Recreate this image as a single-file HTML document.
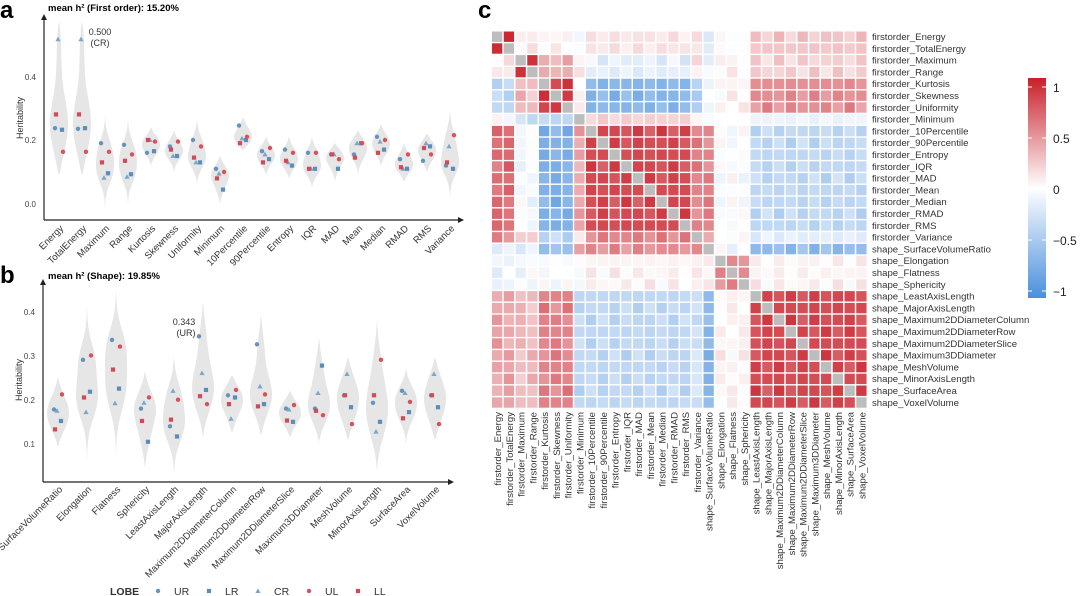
<!DOCTYPE html>
<html><head><meta charset="utf-8"><style>
body{margin:0;background:#fff;width:1080px;height:596px;overflow:hidden}
svg{display:block;font-family:"Liberation Sans",sans-serif}
</style></head><body>
<svg id="s" width="1080" height="596" xmlns="http://www.w3.org/2000/svg">
<defs><linearGradient id="cb" x1="0" y1="0" x2="0" y2="1">
<stop offset="0" stop-color="#c8202a"/><stop offset="0.5" stop-color="#ffffff"/><stop offset="1" stop-color="#4a8fdc"/></linearGradient></defs>
<text x="0" y="18" font-size="24" font-weight="bold">a</text>
<text x="0" y="283" font-size="24" font-weight="bold">b</text>
<text x="478" y="18" font-size="24" font-weight="bold">c</text>
<text x="48" y="11" font-size="9.5" font-weight="bold">mean h² (First order): 15.20%</text>
<text x="48" y="279" font-size="9.5" font-weight="bold">mean h² (Shape): 19.85%</text>
<g id="g"></g>
</svg>
<script>
var S=document.getElementById('g'),h='';
function t(x,y,s,o){h+='<text x="'+x+'" y="'+y+'" '+(o||'')+'>'+s+'</text>';}
function axes(x0,y0,x1,yt){h+='<path d="M'+x0+' '+y0+'V'+(yt+4)+'M'+x0+' '+y0+'H'+(x1-4)+'" stroke="#222" stroke-width="1.2" fill="none"/>';
h+='<path d="M'+(x0-3)+' '+(yt+6)+'L'+x0+' '+yt+'L'+(x0+3)+' '+(yt+6)+'Z" fill="#222"/>';
h+='<path d="M'+(x1-6)+' '+(y0-3)+'L'+x1+' '+y0+'L'+(x1-6)+' '+(y0+3)+'Z" fill="#222"/>';}
axes(44,220,464,14);axes(43,482,454,279);
[[0.4,77],[0.2,140],[0.0,204]].forEach(function(a){t(36,a[1]+3,a[0].toFixed(1),'font-size="8" fill="#444" text-anchor="end"');});
[[0.4,312],[0.3,356],[0.2,400],[0.1,444]].forEach(function(a){t(35,a[1]+3,a[0].toFixed(1),'font-size="8" fill="#444" text-anchor="end"');});
t(0,0,'Heritability','font-size="9" fill="#333" transform="translate(23,118) rotate(-90)" text-anchor="middle"');
t(0,0,'Heritability','font-size="9" fill="#333" transform="translate(22,380) rotate(-90)" text-anchor="middle"');
var A=[["Energy",[.237,.232,.515,.163,.28],.09,.57],["TotalEnergy",[.235,.237,.515,.163,.28],.09,.57],["Maximum",[.19,.096,.082,.163,.13],-.02,.28],["Range",[.185,.093,.085,.155,.135],0,.27],["Kurtosis",[.16,.165,.2,.195,.2],.12,.24],["Skewness",[.18,.15,.15,.195,.17],.1,.23],["Uniformity",[.2,.13,.13,.18,.145],.06,.27],["Minimum",[.11,.045,.095,.1,.08],0,.15],["10Percentile",[.245,.2,.205,.21,.19],.17,.27],["90Percentile",[.165,.14,.155,.175,.13],.09,.21],["Entropy",[.17,.12,.13,.16,.135],.08,.21],["IQR",[.16,.11,.11,.16,.11],.05,.21],["MAD",[.155,.11,.155,.14,.155],.07,.19],["Mean",[.155,.19,.19,.19,.145],.09,.23],["Median",[.21,.17,.195,.2,.16],.12,.25],["RMAD",[.14,.11,.11,.155,.115],.07,.19],["RMS",[.135,.18,.19,.155,.175],.1,.22],["Variance",[.12,.11,.18,.215,.13],.02,.3]];
var B=[["SurfaceVolumeRatio",[.178,.152,.175,.212,.133],.095,.25],["Elongation",[.29,.218,.172,.3,.205],.06,.41],["Flatness",[.335,.225,.192,.32,.268],.07,.45],["Sphericity",[.18,.105,.193,.205,.152],.045,.265],["LeastAxisLength",[.14,.117,.22,.2,.155],.03,.3],["MajorAxisLength",[.343,.222,.26,.19,.208],.115,.42],["Maximum2DDiameterColumn",[.21,.205,.157,.222,.19],.125,.255],["Maximum2DDiameterRow",[.325,.19,.23,.212,.185],.12,.39],["Maximum2DDiameterSlice",[.18,.15,.178,.188,.153],.115,.22],["Maximum3DDiameter",[.18,.277,.215,.165,.175],.105,.34],["MeshVolume",[.21,.183,.258,.145,.21],.11,.295],["MinorAxisLength",[.193,.15,.128,.29,.21],.04,.38],["SurfaceArea",[.22,.172,.215,.195,.158],.1,.27],["VoxelVolume",[.21,.183,.258,.145,.21],.11,.295]];
var off=[-4,3,-1,4,-3],cols=['#6494bd','#5a8db8','#7aa6c9','#d8505b','#d04a57'];
function mark(k,x,y){var c=cols[k];
 if(k==2)h+='<path d="M'+x+' '+(y-2.6)+'L'+(x+2.6)+' '+(y+2)+'L'+(x-2.6)+' '+(y+2)+'Z" fill="'+c+'"/>';
 else if(k==1||k==4)h+='<rect x="'+(x-2.1)+'" y="'+(y-2.1)+'" width="4.2" height="4.2" fill="'+c+'"/>';
 else h+='<circle cx="'+x+'" cy="'+y+'" r="2.2" fill="'+c+'"/>';}
function panel(D,x0,dx,yf,hw,ly){D.forEach(function(d,i){var cx=x0+i*dx,p=d[1],lo=d[2],hi=d[3];
 var mn=Math.min.apply(0,p),mx=Math.max.apply(0,p),bw=0.2*(mx-mn)+0.015,N=60,den=[],m=0;
 for(var s=0;s<=N;s++){var v=lo+(hi-lo)*s/N,f=0;p.forEach(function(q){f+=Math.exp(-0.5*Math.pow((v-q)/bw,2));});f=f*Math.pow(Math.sin(Math.PI*s/N),0.5)+0.15*Math.sin(Math.PI*s/N);den.push(f);if(f>m)m=f;}
 var path='';for(var s=0;s<=N;s++){var v=lo+(hi-lo)*s/N;path+=(s?'L':'M')+(cx+hw*den[s]/m).toFixed(1)+' '+yf(v).toFixed(1);}
 for(var s=N;s>=0;s--){var v=lo+(hi-lo)*s/N;path+='L'+(cx-hw*den[s]/m).toFixed(1)+' '+yf(v).toFixed(1);}
 h+='<path d="'+path+'Z" fill="#e6e6e6"/>';
 p.forEach(function(v,k){mark(k,cx+off[k],yf(v));});
 t(0,0,d[0],'font-size="9.5" fill="#333" text-anchor="end" transform="translate('+(cx+5)+','+ly+') rotate(-45)"');});}
panel(A,59,23,function(v){return 204-320*v;},9,229);
panel(B,58,29,function(v){return 444-443*(v-0.1);},11,490);
t(100,35,'0.500','font-size="9" fill="#333" text-anchor="middle"');t(100,46,'(CR)','font-size="9" fill="#333" text-anchor="middle"');
t(184,325,'0.343','font-size="9" fill="#333" text-anchor="middle"');t(186,336,'(UR)','font-size="9" fill="#333" text-anchor="middle"');
t(110,595,'LOBE','font-size="10.5" font-weight="bold" fill="#333"');
[[158,'UR',0],[209,'LR',1],[258,'CR',2],[309,'UL',3],[358,'LL',4]].forEach(function(a){mark(a[2],a[0],591);t(a[0]+16,595,a[1],'font-size="10.5" fill="#333"');});
var names=["firstorder_Energy","firstorder_TotalEnergy","firstorder_Maximum","firstorder_Range","firstorder_Kurtosis","firstorder_Skewness","firstorder_Uniformity","firstorder_Minimum","firstorder_10Percentile","firstorder_90Percentile","firstorder_Entropy","firstorder_IQR","firstorder_MAD","firstorder_Mean","firstorder_Median","firstorder_RMAD","firstorder_RMS","firstorder_Variance","shape_SurfaceVolumeRatio","shape_Elongation","shape_Flatness","shape_Sphericity","shape_LeastAxisLength","shape_MajorAxisLength","shape_Maximum2DDiameterColumn","shape_Maximum2DDiameterRow","shape_Maximum2DDiameterSlice","shape_Maximum3DDiameter","shape_MeshVolume","shape_MinorAxisLength","shape_SurfaceArea","shape_VoxelVolume"];
var grp=[0,0,1,1,2,2,2,3,4,4,4,4,4,4,4,4,4,5,6,7,7,7,8,8,8,8,8,8,8,8,8,8];
var M=[[.95,.08,.05,-.05,.12,.1,-.15,0,.25],[.1,.9,.35,.15,-.15,.1,-.1,.05,.2],[-.35,.3,.85,.05,-.65,-.4,-.1,.05,.5],[0,-.3,-.35,1,.2,.05,-.05,0,-.1],[.65,-.05,-.7,.4,.8,.55,.55,-.02,-.35],[.5,.2,-.35,0,.55,1,.35,0,-.15],[-.15,-.15,-.55,.45,.5,.45,1,-.05,-.6],[-.1,-.05,-.02,0,.05,.05,.1,.5,.05],[.4,.3,.55,-.35,-.35,-.25,-.65,.05,.8]];
function col(v){v=Math.max(-1,Math.min(1,v));var a=Math.abs(v),c=v>0?[200,30,40]:[74,143,220];
 return 'rgb('+c.map(function(x){return Math.round(255+(x-255)*Math.pow(a,1.0));}).join(',')+')';}
for(var i=0;i<32;i++){for(var j=0;j<32;j++){var v;
 if(i==j)v=null;else{v=M[grp[i]][grp[j]]+0.1*Math.sin(i*7.3+j*3.1)*Math.cos(i*1.7-j*5.9);}
 var f=v===null?'#bdbdbd':col(v);
 h+='<rect x="'+(492+j*11.75).toFixed(2)+'" y="'+(31.5+i*11.8).toFixed(2)+'" width="10.3" height="10.4" fill="'+f+'"/>';}
 t(872,31.5+i*11.8+8.5,names[i],'font-size="9.6" fill="#333"');
 t(0,0,names[i],'font-size="9.6" fill="#333" text-anchor="end" transform="translate('+(492+i*11.75+9).toFixed(1)+',412) rotate(-90)"');}
h+='<rect x="1028" y="78" width="18" height="220" fill="url(#cb)"/>';
[[1,'1'],[.5,'0.5'],[0,'0'],[-.5,'−0.5'],[-1,'−1']].forEach(function(a){var y=189-102*a[0];
 h+='<path d="M1028 '+y+'h4M1042 '+y+'h4" stroke="#fff" stroke-width="1"/>';t(1053,y+5,a[1],'font-size="12" fill="#222"');});
S.innerHTML=h;
</script>
</body></html>
